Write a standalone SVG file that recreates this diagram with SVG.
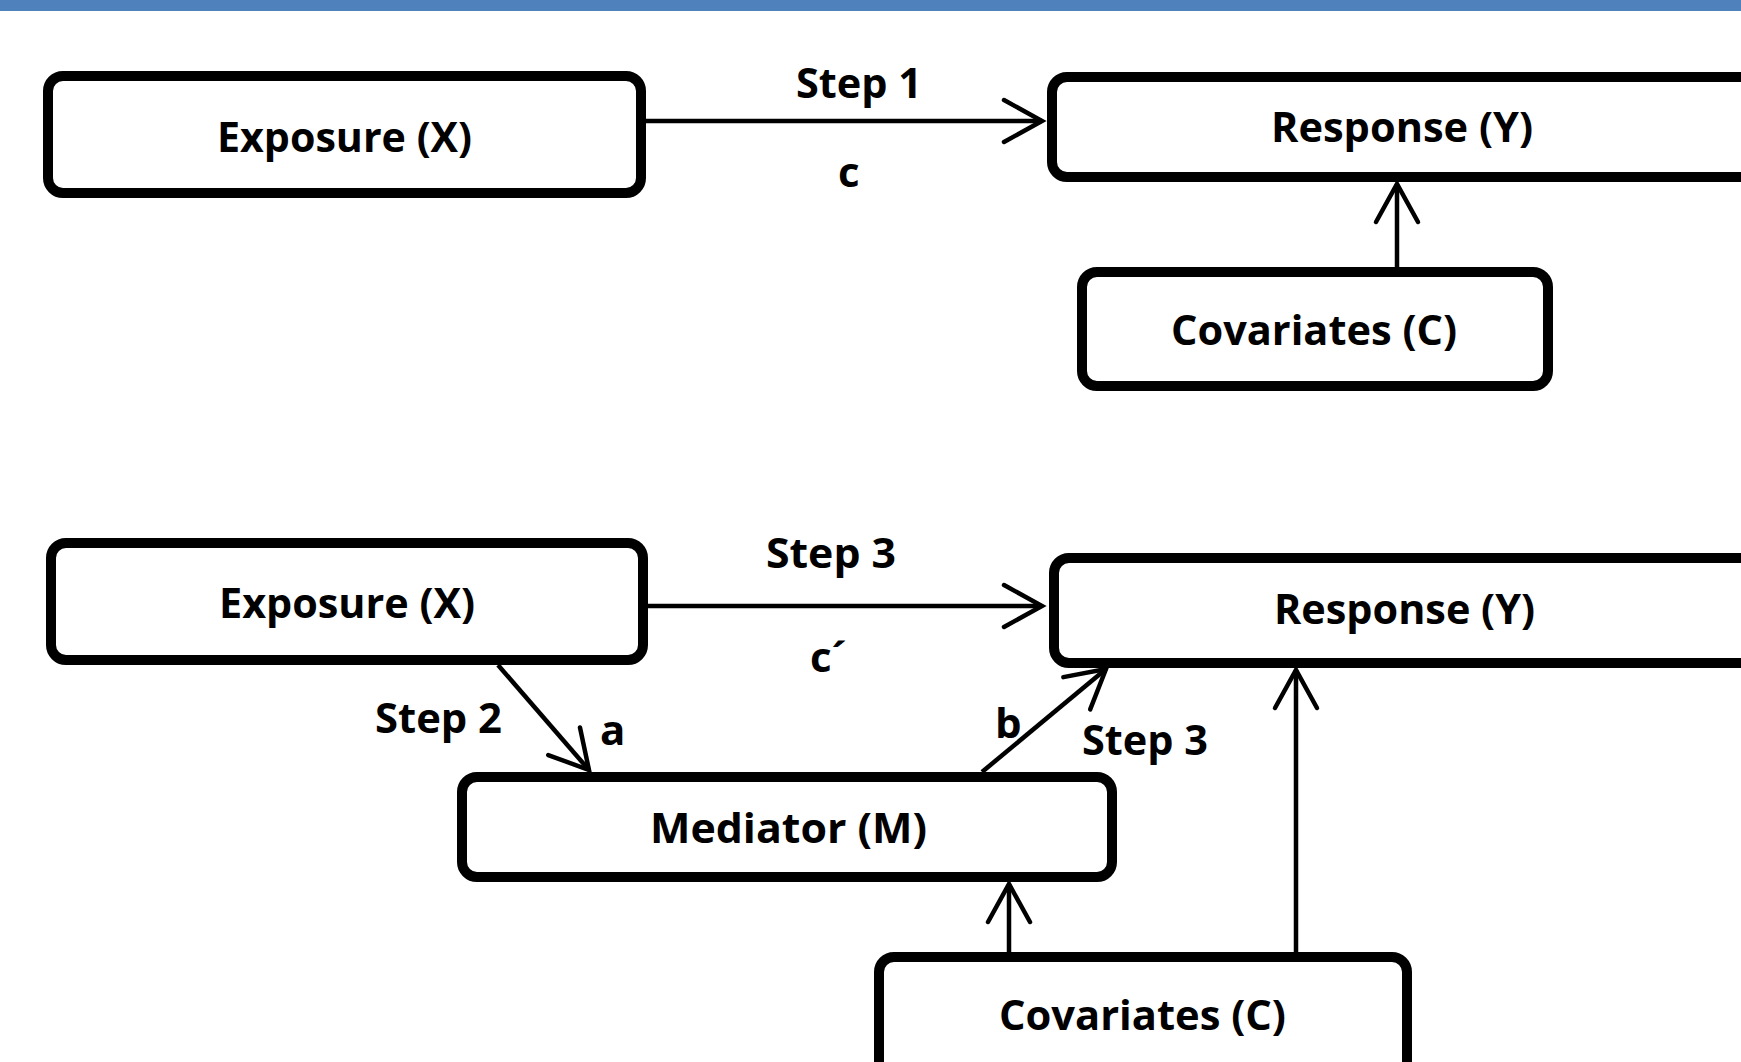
<svg xmlns="http://www.w3.org/2000/svg" width="1741" height="1062" viewBox="0 0 1741 1062">
<style>
.box{fill:#fff;stroke:#000;stroke-width:10}
.t{font-family:"Open Sans","Liberation Sans",sans-serif;font-weight:700;font-size:42px;fill:#000}
.c{stroke:#000;stroke-width:4.5;fill:none}
</style>
<defs>
<marker id="arr" markerUnits="userSpaceOnUse" markerWidth="60" markerHeight="60" viewBox="-50 -30 60 60" refX="0" refY="0" orient="auto" overflow="visible">
<path d="M-38,-21 L0,0 L-38,21" fill="none" stroke="#000" stroke-width="4.5" stroke-linecap="round"/>
</marker>
</defs>
<rect x="0" y="0" width="1741" height="11" fill="#4f81bd"/>

<g id="connectors">
<line class="c" x1="646" y1="121" x2="1042" y2="121" marker-end="url(#arr)"/>
<line class="c" x1="1397" y1="267" x2="1397" y2="184" marker-end="url(#arr)"/>
<line class="c" x1="648" y1="606" x2="1042" y2="606" marker-end="url(#arr)"/>
<line class="c" x1="498" y1="665" x2="589" y2="770" marker-end="url(#arr)"/>
<line class="c" x1="982" y1="772" x2="1106" y2="669" marker-end="url(#arr)"/>
<line class="c" x1="1009" y1="952" x2="1009" y2="884" marker-end="url(#arr)"/>
<line class="c" x1="1296" y1="952" x2="1296" y2="670" marker-end="url(#arr)"/>
</g>

<g id="labels">
<text class="t" x="796" y="98" textLength="126" lengthAdjust="spacingAndGlyphs">Step 1</text>
<text class="t" x="838" y="187">c</text>
<text class="t" x="766" y="568" textLength="130" lengthAdjust="spacingAndGlyphs">Step 3</text>
<text class="t" x="810" y="672">c´</text>
<text class="t" x="375" y="733" textLength="127" lengthAdjust="spacingAndGlyphs">Step 2</text>
<text class="t" x="600" y="745">a</text>
<text class="t" x="995" y="738">b</text>
<text class="t" x="1082" y="755" textLength="126" lengthAdjust="spacingAndGlyphs">Step 3</text>
</g>

<g id="exposure1">
<rect class="box" x="48" y="76" width="593" height="117" rx="15"/>
<text class="t" x="217" y="152" textLength="255" lengthAdjust="spacingAndGlyphs">Exposure (X)</text>
</g>
<g id="response1">
<rect class="box" x="1052" y="77" width="720" height="100" rx="15"/>
<text class="t" x="1271" y="142" textLength="262" lengthAdjust="spacingAndGlyphs">Response (Y)</text>
</g>
<g id="covariates1">
<rect class="box" x="1082" y="272" width="466" height="114" rx="15"/>
<text class="t" x="1171" y="345" textLength="286" lengthAdjust="spacingAndGlyphs">Covariates (C)</text>
</g>
<g id="exposure2">
<rect class="box" x="51" y="543" width="592" height="117" rx="15"/>
<text class="t" x="219" y="618" textLength="256" lengthAdjust="spacingAndGlyphs">Exposure (X)</text>
</g>
<g id="response2">
<rect class="box" x="1054" y="558" width="720" height="105" rx="15"/>
<text class="t" x="1274" y="624" textLength="261" lengthAdjust="spacingAndGlyphs">Response (Y)</text>
</g>
<g id="mediator">
<rect class="box" x="462" y="777" width="650" height="100" rx="15"/>
<text class="t" x="650" y="843" textLength="277" lengthAdjust="spacingAndGlyphs">Mediator (M)</text>
</g>
<g id="covariates2">
<rect class="box" x="879" y="957" width="528" height="140" rx="15"/>
<text class="t" x="999" y="1030" textLength="287" lengthAdjust="spacingAndGlyphs">Covariates (C)</text>
</g>
</svg>
